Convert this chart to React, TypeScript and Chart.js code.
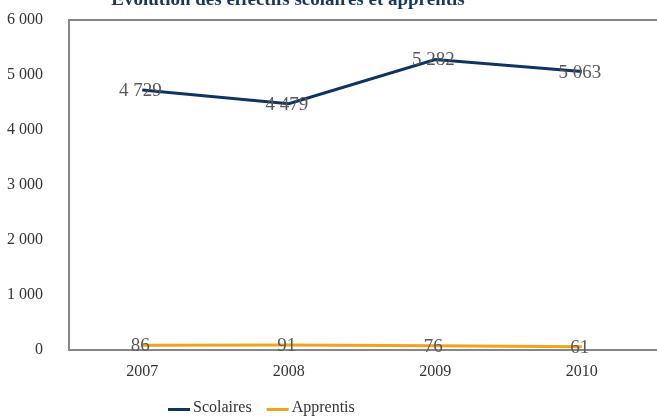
import React, { useEffect, useRef } from "react";
import { Chart, registerables } from "chart.js";

Chart.register(...registerables);

const years = ["2007", "2008", "2009", "2010"];
const scolaires = [4729, 4479, 5282, 5063];
const apprentis = [86, 91, 76, 61];
const yTicks = [0, 1000, 2000, 3000, 4000, 5000, 6000];
const titleText = "Évolution des effectifs scolaires et apprentis";

const FONT = "'Liberation Serif', 'DejaVu Serif', serif";

const fmt = (v: number) => {
  const s = String(Math.round(v));
  return s.replace(/\B(?=(\d{3})+(?!\d))/g, " ");
};

const framePlugin = {
  id: "frame",
  beforeDatasetsDraw(chart: any) {
    const { ctx, chartArea, width } = chart;
    ctx.save();
    ctx.strokeStyle = "#868686";
    ctx.lineWidth = 2;
    ctx.beginPath();
    ctx.moveTo(width + 2, chartArea.top);
    ctx.lineTo(chartArea.left, chartArea.top);
    ctx.lineTo(chartArea.left, chartArea.bottom);
    ctx.lineTo(width + 2, chartArea.bottom);
    ctx.stroke();
    ctx.restore();
  },
};

const labelsPlugin = {
  id: "valueLabels",
  afterDatasetsDraw(chart: any) {
    const { ctx } = chart;
    ctx.save();
    ctx.font = `19px ${FONT}`;
    ctx.fillStyle = "#595959";
    ctx.textAlign = "center";
    ctx.textBaseline = "middle";
    chart.data.datasets.forEach((ds: any, i: number) => {
      const meta = chart.getDatasetMeta(i);
      meta.data.forEach((pt: any, j: number) => {
        ctx.fillText(fmt(ds.data[j]), pt.x - 2, pt.y + 1);
      });
    });
    ctx.restore();
  },
};

const titleLegendPlugin = {
  id: "titleLegend",
  afterDraw(chart: any) {
    const { ctx } = chart;
    ctx.save();
    ctx.font = `bold 19px ${FONT}`;
    ctx.fillStyle = "#17375E";
    ctx.textAlign = "center";
    ctx.textBaseline = "alphabetic";
    ctx.fillText(titleText, 288, 5);

    // legend
    ctx.font = `16px ${FONT}`;
    ctx.textAlign = "left";
    ctx.textBaseline = "middle";
    const y = 408;
    let x = 168;
    chart.data.datasets.forEach((ds: any) => {
      ctx.fillStyle = ds.borderColor;
      ctx.fillRect(x, y, 22, 3);
      ctx.fillStyle = "#333333";
      ctx.fillText(ds.label, x + 25, y);
      x += 25 + ctx.measureText(ds.label).width + 15;
    });
    ctx.restore();
  },
};

export default function App() {
  const ref = useRef<HTMLCanvasElement>(null);
  useEffect(() => {
    if (!ref.current) return;
    const chart = new Chart(ref.current, {
      type: "line",
      data: {
        labels: years,
        datasets: [
          {
            label: "Scolaires",
            data: scolaires,
            borderColor: "#0F3363",
            backgroundColor: "#0F3363",
            borderWidth: 3,
            pointRadius: 0,
            tension: 0,
          },
          {
            label: "Apprentis",
            data: apprentis,
            borderColor: "#F2A21B",
            backgroundColor: "#F2A21B",
            borderWidth: 3,
            pointRadius: 0,
            tension: 0,
          },
        ],
      },
      options: {
        responsive: false,
        animation: false,
        layout: { padding: { top: 20, right: 2, left: 0, bottom: 0 } },
        scales: {
          x: {
            offset: true,
            afterFit: (scale: any) => {
              scale.height = 67;
              scale.paddingLeft = 0;
              scale.paddingRight = 0;
            },
            grid: { display: false, drawTicks: false },
            border: { display: false },
            ticks: { color: "#333333", font: { family: FONT, size: 16 }, padding: 12 },
          },
          y: {
            min: 0,
            max: 6000,
            afterBuildTicks: (scale: any) => {
              scale.ticks = yTicks.map((v) => ({ value: v }));
            },
            afterFit: (scale: any) => {
              scale.width = 69;
              scale.paddingTop = 0;
              scale.paddingBottom = 0;
            },
            grid: { display: false, drawTicks: false },
            border: { display: false },
            ticks: {
              color: "#333333",
              font: { family: FONT, size: 16 },
              padding: 26,
              callback: (v: any) => fmt(Number(v)),
            },
          },
        },
        plugins: {
          legend: { display: false },
          tooltip: { enabled: false },
          title: { display: false },
        },
      },
      plugins: [framePlugin, labelsPlugin, titleLegendPlugin],
    });
    return () => chart.destroy();
  }, []);
  return (
    <canvas
      ref={ref}
      width={657}
      height={417}
      style={{ position: "fixed", left: 0, top: 0, width: 657, height: 417 }}
    />
  );
}
